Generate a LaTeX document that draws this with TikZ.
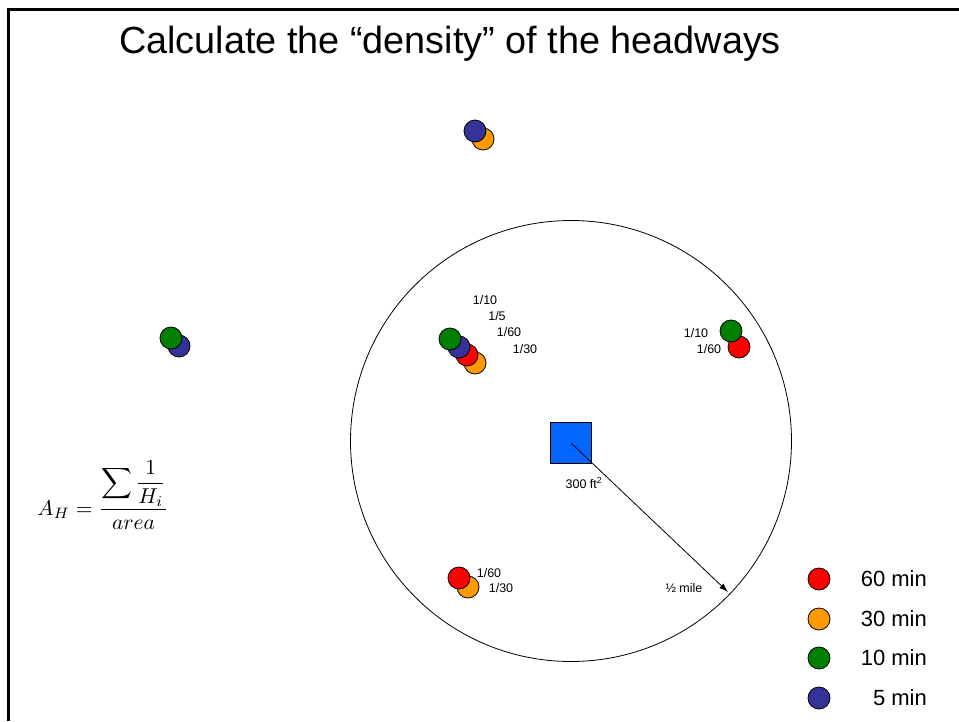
\documentclass[tikz,border=0pt]{standalone}
\usepackage{graphicx}
\usepackage{fontspec}
\setmainfont{Liberation Sans}
\usetikzlibrary{arrows.meta}
\definecolor{cred}{RGB}{255,0,0}
\definecolor{corange}{RGB}{255,153,0}
\definecolor{cgreen}{RGB}{0,128,0}
\definecolor{cblue}{RGB}{51,51,153}
\definecolor{csquare}{RGB}{0,102,255}
\begin{document}
\begin{tikzpicture}[x=1pt,y=-1pt,
  dot/.style={circle,draw=black,line width=0.8pt,minimum size=22pt,inner sep=0pt},
  lab/.style={font=\fontsize{12.5}{14}\selectfont,inner sep=0pt},
  leg/.style={font=\fontsize{22}{24}\selectfont,inner sep=0pt,anchor=east}]
\useasboundingbox (0,0) rectangle (959,721);
% frame
\draw[line width=3pt] (8,721) -- (8,9) -- (959,9);
% title
\node[font=\fontsize{37.8}{42}\selectfont,inner sep=0pt] (title) at (450,44) {Calculate the “density” of the headways};
% big circle
\node[circle,draw=black,line width=0.8pt,minimum size=441pt,inner sep=0pt] (area) at (571,441) {};
% square
\node[draw=black,line width=0.8pt,fill=csquare,minimum size=41pt,inner sep=0pt] (sq) at (571,443) {};
\coordinate (tip) at (728,592);
\draw[-{Latex[length=9pt,width=6pt]},line width=0.8pt] (sq.center) -- (tip);
\node[lab] (sqlab) at (584,483) {300 ft\textsuperscript{2}};
\node[lab] (mile) at (684,588) {½ mile};
% top cluster
\node[dot,fill=corange] (o1) at (483,139) {};
\node[dot,fill=cblue] (b1) at (475,131) {};
% left cluster
\node[dot,fill=cblue] (b2) at (179,346) {};
\node[dot,fill=cgreen] (g2) at (171,338) {};
% inner cluster
\node[dot,fill=corange] (o3) at (475,363) {};
\node[dot,fill=cred] (r3) at (467,355) {};
\node[dot,fill=cblue] (b3) at (459,347) {};
\node[dot,fill=cgreen] (g3) at (450,339) {};
\node[lab] (l31) at (485,300) {1/10};
\node[lab] (l32) at (497,316) {1/5};
\node[lab] (l33) at (509,332) {1/60};
\node[lab] (l34) at (525,349) {1/30};
% right cluster
\node[dot,fill=cred] (r4) at (739,347) {};
\node[dot,fill=cgreen] (g4) at (731,331) {};
\node[lab] (l41) at (696,333) {1/10};
\node[lab] (l42) at (709,349) {1/60};
% bottom cluster
\node[dot,fill=corange] (o5) at (468,587) {};
\node[dot,fill=cred] (r5) at (459,578) {};
\node[lab] (l51) at (489,573) {1/60};
\node[lab] (l52) at (501,588) {1/30};
% legend
\node[dot,fill=cred] (k1) at (819,579) {};
\node[dot,fill=corange] (k2) at (819,619) {};
\node[dot,fill=cgreen] (k3) at (819,658) {};
\node[dot,fill=cblue] (k4) at (819,698) {};
\node[leg] (t1) at (927,579) {60 min};
\node[leg] (t2) at (927,619) {30 min};
\node[leg] (t3) at (927,658) {10 min};
\node[leg] (t4) at (927,698) {5 min};
% formula
\node[inner sep=0pt] (formula) at (103,495)
  {\scalebox{2.15}{$\displaystyle A_H=\frac{\displaystyle\sum\frac{1}{H_i}}{area}$}};
\end{tikzpicture}
\end{document}
